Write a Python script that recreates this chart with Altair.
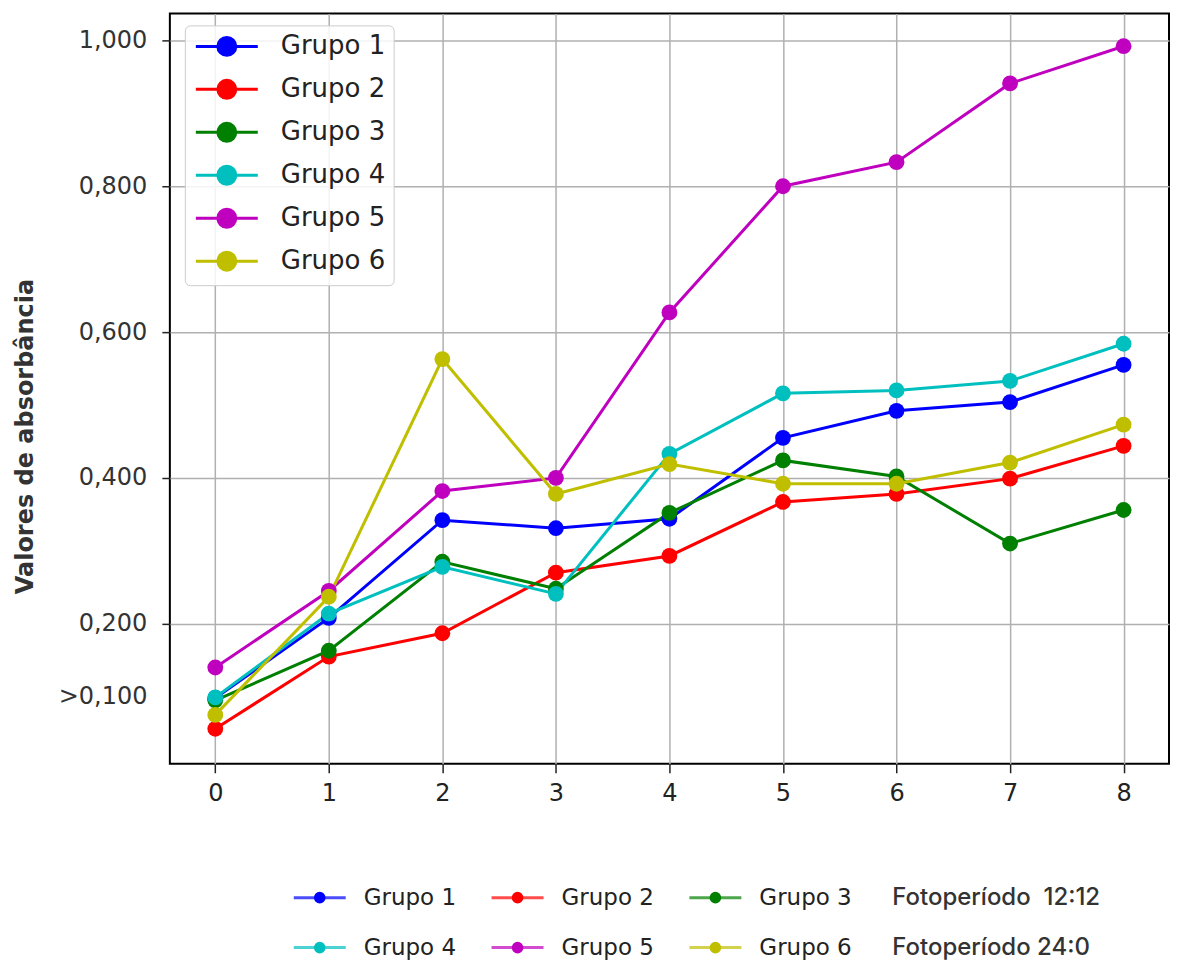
import altair as alt
import pandas as pd

# ---------------- data ----------------
dias = [0, 1, 2, 3, 4, 5, 6, 7, 8]
grupos = ["Grupo 1", "Grupo 2", "Grupo 3", "Grupo 4", "Grupo 5", "Grupo 6"]
cores = ["#0000ff", "#ff0000", "#008000", "#00bfbf", "#bf00bf", "#bfbf00"]

grupo1 = [0.098, 0.208, 0.342, 0.331, 0.344, 0.455, 0.492, 0.504, 0.555]
grupo2 = [0.056, 0.155, 0.187, 0.270, 0.293, 0.367, 0.378, 0.399, 0.444]
grupo3 = [0.095, 0.163, 0.285, 0.248, 0.352, 0.424, 0.402, 0.310, 0.356]
grupo4 = [0.099, 0.214, 0.278, 0.241, 0.433, 0.516, 0.520, 0.533, 0.584]
grupo5 = [0.140, 0.245, 0.382, 0.400, 0.627, 0.800, 0.833, 0.941, 0.992]
grupo6 = [0.075, 0.237, 0.563, 0.378, 0.419, 0.392, 0.392, 0.421, 0.473]
series = [grupo1, grupo2, grupo3, grupo4, grupo5, grupo6]

y_ticks = [0.1, 0.2, 0.4, 0.6, 0.8, 1.0]

legenda_inferior = [
    ["Grupo 1", "Grupo 2", "Grupo 3", "Fotoperíodo\u00a0 12:12"],
    ["Grupo 4", "Grupo 5", "Grupo 6", "Fotoperíodo 24:0"],
]

# ---------------- tables ----------------
rows = []
for g, vals in zip(grupos, series):
    for d, v in zip(dias, vals):
        rows.append({"dia": d, "valor": v, "grupo": g})
df = pd.DataFrame(rows)

leg_rows = []
for r, linha in enumerate(legenda_inferior):
    for c, lab in enumerate(linha):
        leg_rows.append({"row": r, "col": c, "label": lab,
                         "grupo": lab if lab in grupos else "nenhum"})
df_leg = pd.DataFrame(leg_rows)

# ---------------- main chart ----------------
W, H = 1000, 751
# line with a circle marker; drawn to the right of the nominal symbol centre
sym = "M-1,0L5.2,0M3.0,0A0.9,0.9,0,1,1,1.2,0A0.9,0.9,0,1,1,3.0,0Z"

color_scale = alt.Scale(domain=grupos, range=cores)

base = alt.Chart(df).encode(
    x=alt.X(
        "dia:Q",
        scale=alt.Scale(domain=[-0.4, 8.4], nice=False, zero=False),
        axis=alt.Axis(
            values=dias, title=None, format="d",
            labelFont="DejaVu Sans", labelFontSize=24, labelColor="#222222",
            tickColor="#222222", tickSize=9, tickWidth=1.5, labelPadding=9,
            grid=True, gridColor="#b0b0b0", gridWidth=1.5, domain=False,
        ),
    ),
    y=alt.Y(
        "valor:Q",
        scale=alt.Scale(domain=[0.008, 1.037], nice=False, zero=False),
        axis=alt.Axis(
            values=y_ticks,
            labelExpr="datum.value < 0.15 ? '>0,100' : replace(format(datum.value, '.3f'), '.', ',')",
            title="Valores de absorbância",
            titleFont="DejaVu Sans", titleFontSize=24, titleFontWeight="bold", titleColor="#333333",
            titleX=-137, titleY=423, titleAngle=-90, titleAlign="center", titleBaseline="alphabetic",
            labelFont="DejaVu Sans", labelFontSize=24, labelColor="#333333",
            tickColor="#222222", tickSize=8, tickWidth=1.5, labelPadding=15,
            tickOpacity={"condition": {"test": "datum.value < 0.15", "value": 0}, "value": 1},
            grid=True, gridColor="#b0b0b0", gridWidth=1.5,
            gridOpacity={"condition": {"test": "datum.value < 0.15", "value": 0}, "value": 1},
            domain=False,
        ),
    ),
    color=alt.Color(
        "grupo:N", scale=color_scale, sort=grupos,
        legend=alt.Legend(
            orient="none", legendX=15, legendY=12, title=None,
            labelFont="DejaVu Sans", labelFontSize=26, labelColor="#222222",
            symbolType=sym, symbolSize=400, symbolStrokeWidth=3,
            padding=8, rowPadding=11, labelOffset=62,
            fillColor="rgba(255,255,255,0.85)", strokeColor="#cccccc", cornerRadius=5,
        ),
    ),
)

lines = base.mark_line(strokeWidth=3)
points = base.mark_circle(size=250, opacity=1)
main = alt.layer(lines, points).properties(width=W, height=H)

# ---------------- bottom legend ----------------
col_px = 198.0
col0_px = 150.0
x_dom = [-col0_px / col_px, (W - col0_px) / col_px]

bl = alt.Chart(df_leg).encode(
    x=alt.X("col:Q", scale=alt.Scale(domain=x_dom, nice=False, zero=False), axis=None),
    y=alt.Y("row:Q", scale=alt.Scale(domain=[-1.4, 1.1], nice=False, zero=False, reverse=True), axis=None),
)
grp_only = bl.transform_filter("datum.grupo != 'nenhum'")
leg_color = alt.Color("grupo:N", scale=alt.Scale(domain=grupos, range=cores), legend=None)

seg = grp_only.mark_tick(orient="horizontal", size=52, thickness=3).encode(color=leg_color)
dot = grp_only.mark_circle(size=135, opacity=1).encode(color=leg_color)
txt = grp_only.mark_text(align="left", baseline="middle", dx=44, font="DejaVu Sans",
                         fontSize=23, color="#222222").encode(text="label:N")
foto = bl.transform_filter("datum.grupo == 'nenhum'").mark_text(
    align="left", baseline="middle", dx=-21, font="Inter", fontSize=24,
    fontWeight=500, color="#333333").encode(text="label:N")

bottom = alt.layer(seg, dot, txt, foto).properties(
    width=W, height=125, view=alt.ViewBackground(stroke="transparent"))

chart = alt.vconcat(main, bottom, spacing=20).properties(
    padding={"left": 5, "top": 4, "right": 0, "bottom": 0}
).configure_view(stroke="black", strokeWidth=2).configure_concat(spacing=20)

chart.save("out.html", embed_options={"renderer": "svg", "actions": False})
